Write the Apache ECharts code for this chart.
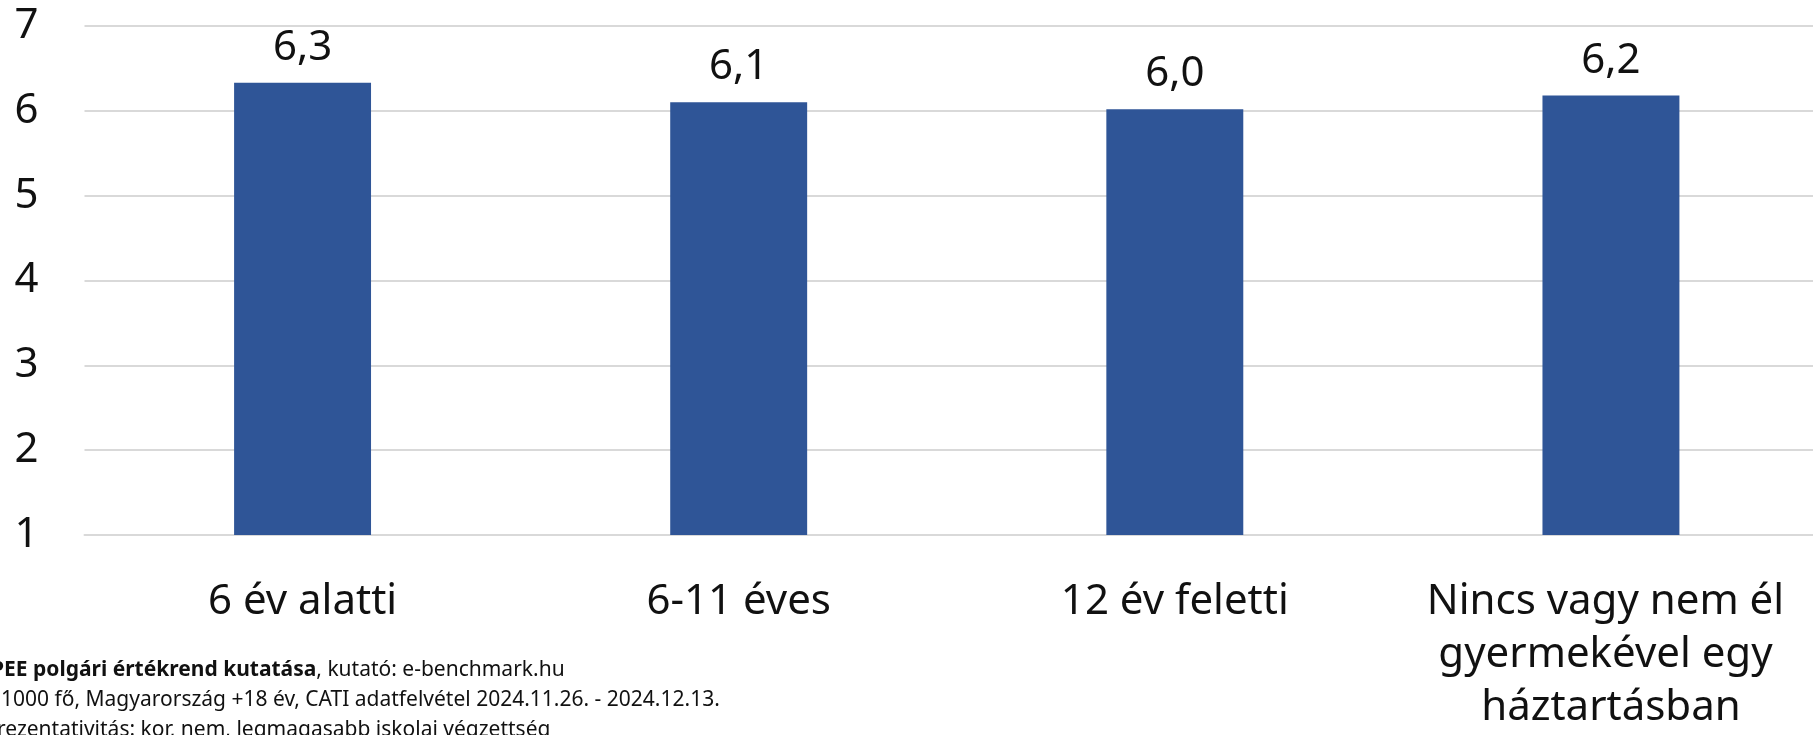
<!DOCTYPE html>
<html>
<head>
<meta charset="utf-8">
<script src="https://cdn.jsdelivr.net/npm/echarts@6/dist/echarts.min.js"></script>
<style>
  html, body { margin: 0; padding: 0; background: #fff; overflow: hidden; }
  /* plot runs a little past the right edge of the window, as in the source */
  #chart { width: 1829px; height: 735px; }
</style>
</head>
<body>
<div id="chart"></div>
<script>
// data
var categories = ['6 év alatti', '6-11 éves', '12 év feletti', 'Nincs vagy nem él gyermekével egy háztartásban'];
var values = [6.33, 6.10, 6.02, 6.18];
var yTicks = [1, 2, 3, 4, 5, 6, 7];

var footLine1Bold = 'PEE polgári értékrend kutatása';
var footLine1 = ', kutató: e-benchmark.hu';
var footLine2 = '1000 fő, Magyarország +18 év, CATI adatfelvétel 2024.11.26. - 2024.12.13.';
var footLine3 = 'rezentativitás: kor, nem, legmagasabb iskolai végzettség';

var FONT = '"Noto Sans", "Open Sans", sans-serif';

var myChart = echarts.init(document.getElementById('chart'));

var option = {
  backgroundColor: '#fff',
  animation: false,
  grid: { left: 84.5, right: 0, top: 26, bottom: 197.3, containLabel: false },
  xAxis: {
    type: 'category',
    data: categories,
    axisLine: { show: true, lineStyle: { color: '#d9d9d9', width: 2 } },
    axisTick: { show: false },
    axisLabel: {
      interval: 0,
      margin: 41,
      fontFamily: FONT,
      fontSize: 42,
      lineHeight: 53,
      color: '#111',
      width: 390,
      overflow: 'break'
    }
  },
  yAxis: {
    type: 'value',
    min: yTicks[0],
    max: yTicks[yTicks.length - 1],
    interval: 1,
    axisLine: { show: false },
    axisTick: { show: false },
    axisLabel: { margin: 46, fontFamily: FONT, fontSize: 42, color: '#111' },
    splitLine: { lineStyle: { color: '#d9d9d9', width: 2 } }
  },
  series: [{
    type: 'bar',
    data: values,
    barWidth: '31.4%',
    itemStyle: { color: '#2F5597' },
    label: {
      show: true,
      position: 'top',
      distance: 14,
      fontFamily: FONT,
      fontSize: 42,
      color: '#111',
      formatter: function (p) { return p.value.toFixed(1).replace('.', ','); }
    }
  }],
  graphic: [
    {
      type: 'text', left: -9, top: 660,
      style: {
        text: '{b|' + footLine1Bold + '}{n|' + footLine1 + '}',
        rich: {
          b: { fontFamily: FONT, fontSize: 21, fontWeight: 'bold', fill: '#111' },
          n: { fontFamily: FONT, fontSize: 21, fill: '#111' }
        }
      }
    },
    { type: 'text', left: 1, top: 690, style: { text: footLine2, fontFamily: FONT, fontSize: 21, fill: '#111' } },
    { type: 'text', left: -3, top: 720, style: { text: footLine3, fontFamily: FONT, fontSize: 21, fill: '#111' } }
  ]
};

myChart.setOption(option);
window.onresize = function () { myChart.resize(); };
</script>
</body>
</html>
